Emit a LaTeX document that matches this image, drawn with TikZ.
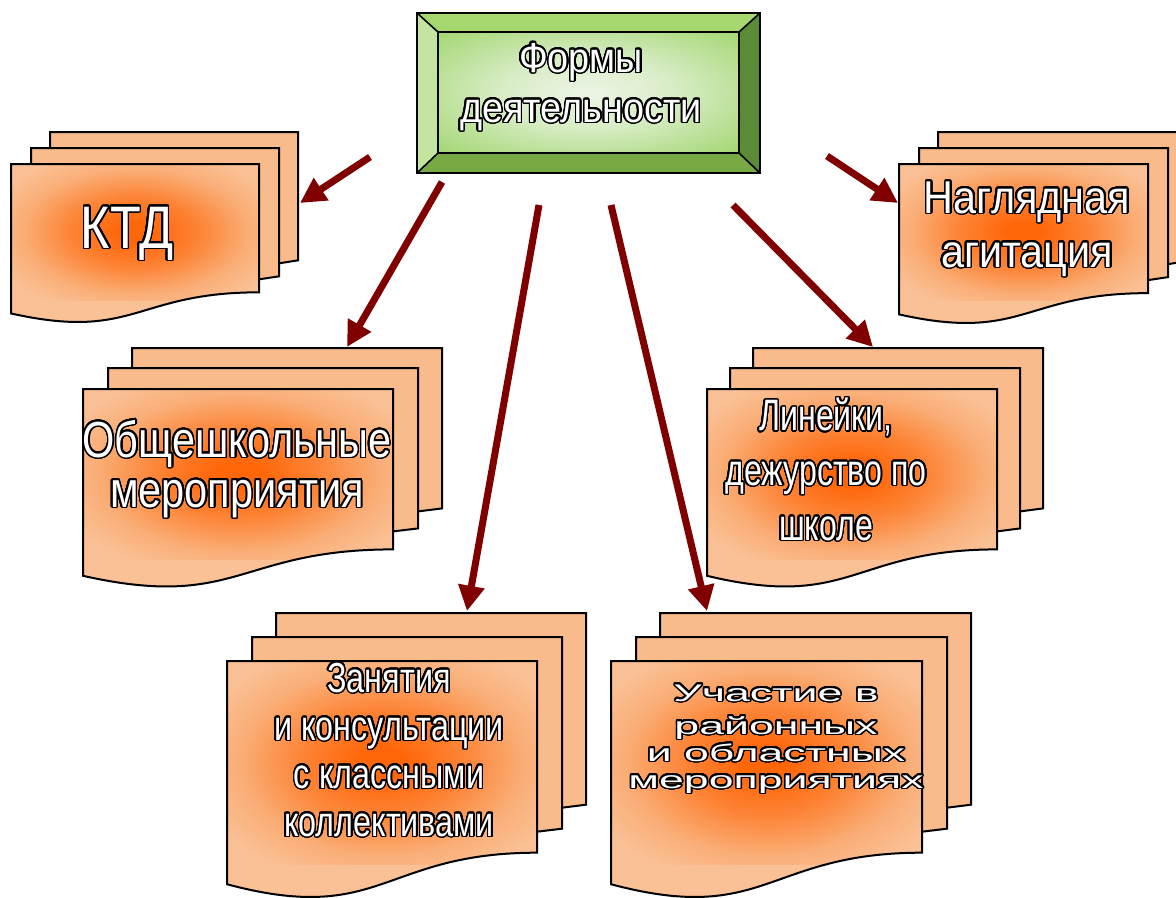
\documentclass[tikz,border=0pt]{standalone}
\usepackage{fontspec}
\setmainfont{Liberation Sans}
\usepackage{contour}
\contourlength{1.1pt}
\contournumber{32}
\usetikzlibrary{arrows.meta}
\definecolor{arr}{HTML}{800000}
\definecolor{peach}{HTML}{F9BB8B}
\definecolor{peachL}{HTML}{FAC196}
\definecolor{orng}{HTML}{FF6608}
\definecolor{gTop}{HTML}{A6D870}
\definecolor{gLeft}{HTML}{C3E5A0}
\definecolor{gRight}{HTML}{5C8B38}
\definecolor{gBot}{HTML}{78A944}
\definecolor{gIn}{HTML}{9CD468}
\definecolor{gCen}{HTML}{EDF5E6}
\pgfdeclareradialshading{docshade}{\pgfpoint{0bp}{0bp}}{color(0bp)=(orng); color(3.5bp)=(orng); color(13bp)=(orng!65!peach); color(23bp)=(peach!85!orng); color(31bp)=(peachL); color(50bp)=(peachL)}
\pgfdeclareradialshading{greenshade}{\pgfpoint{0bp}{0bp}}{color(0bp)=(gCen); color(14bp)=(gCen!75!gIn); color(38bp)=(gIn); color(50bp)=(gIn)}
\newcommand\fs[3]{\fontsize{#1}{#2}\selectfont\addfontfeatures{FakeStretch=#3}}
\newcommand\ct[1]{\contour{black}{#1}}
\tikzset{
  sheet/.style={draw=black, line width=1.5pt, fill=peach},
  frontline/.style={draw=black, line width=1.5pt},
  bevel/.style={draw=black, line width=1.2pt},
  arrowst/.style={draw=arr, line width=5.25pt, -{Triangle[length=19pt,width=19pt]}, fill=arr},
  txt/.style={text=white, align=center, anchor=base, inner sep=0pt}
}
% #1 x0, #2 y0, #3 w, #4 h, #5 dx1, #6 dy1, #7 dx2, #8 dy2
\newcommand\mdoc[8]{%
  \pgfmathsetmacro\hr{0.802*#4}%
  \pgfmathsetmacro\hl{0.934*#4}%
  \pgfmathsetmacro\hd{1.1075*#4}%
  \pgfmathsetmacro\hs{0.85*#4}%
  \pgfmathsetmacro\xm{#1+0.5*#3}%
  \pgfmathsetmacro\xb{#1+#3}%
  \draw[sheet] ({#1+#7},{#2-#8}) -- ({\xb+#7},{#2-#8}) -- ({\xb+#7},{#2+\hr-#8}) -- ({\xb+#5},{#2+\hr-#8+3}) -- ({#1+#7},{#2+\hr-#8+3}) -- cycle;
  \draw[sheet] ({#1+#5},{#2-#6}) -- ({\xb+#5},{#2-#6}) -- ({\xb+#5},{#2+\hr-#6}) -- ({\xb},{#2+\hr-#6+3}) -- ({#1+#5},{#2+\hr-#6+3}) -- cycle;
  \fill[peachL] (#1,#2) -- (\xb,#2) -- (\xb,{#2+\hr}) .. controls (\xm,{#2+\hr}) and (\xm,{#2+\hd}) .. (#1,{#2+\hl}) -- cycle;
  \begin{scope}
    \clip (#1,#2) -- (\xb,#2) -- (\xb,{#2+\hr}) .. controls (\xm,{#2+\hr}) and (\xm,{#2+\hd}) .. (#1,{#2+\hl}) -- cycle;
    \path[shading=docshade] (#1,#2) rectangle (\xb,{#2+\hs});
  \end{scope}
  \path[frontline] (#1,#2) -- (\xb,#2) -- (\xb,{#2+\hr}) .. controls (\xm,{#2+\hr}) and (\xm,{#2+\hd}) .. (#1,{#2+\hl}) -- cycle;
}
\begin{document}
\begin{tikzpicture}[x=0.75pt,y=-0.75pt]
\useasboundingbox (0,0) rectangle (1176,897);
\clip (0,0) rectangle (1176,897);
\fill[white] (0,0) rectangle (1176,897);

% top box
\fill[gTop] (417,13) -- (760,13) -- (739,32) -- (438,32) -- cycle;
\fill[gLeft] (417,13) -- (438,32) -- (438,153) -- (417,173) -- cycle;
\fill[gRight] (760,13) -- (760,173) -- (739,153) -- (739,32) -- cycle;
\fill[gBot] (417,173) -- (438,153) -- (739,153) -- (760,173) -- cycle;
\path[shading=greenshade] (438,32) rectangle (739,153);
\draw[bevel] (417,13) rectangle (760,173);
\draw[bevel] (438,32) rectangle (739,153);
\draw[bevel] (417,13) -- (438,32) (760,13) -- (739,32) (417,173) -- (438,153) (760,173) -- (739,153);
\node[txt, font=\fs{31.5}{37.5}{0.9}] (forms) at (581,122) {\ct{Формы}\\\ct{деятельности}};

% documents
\mdoc{11}{164}{248}{160}{20}{16}{39}{32}
\node[txt, font=\fs{45}{50}{0.84}] (ktd) at (127,248) {\ct{КТД}};

\mdoc{83}{389}{310}{200}{25}{21}{49}{41}
\node[txt, font=\fs{38}{37.5}{0.82}] (obsh) at (237,507) {\ct{Общешкольные}\\\ct{мероприятия}};

\mdoc{227}{661}{310}{239}{25}{24}{49}{48}
\node[txt, font=\fs{31.5}{36}{0.77}] (zan) at (389,836) {\ct{Занятия}\\\ct{и консультации}\\\ct{с классными}\\\ct{коллективами}};

\mdoc{611}{661}{311}{239}{25}{24}{49}{48}
\node[txt, font=\fs{18}{20.25}{1.86}] (uch) at (776,788) {\ct{Участие в}\\[4.5pt]\ct{районных}\\\ct{и областных}\\\ct{мероприятиях}};

\mdoc{707}{389}{290}{200}{23}{21}{46}{41}
\node[txt, font=\fs{33}{41}{0.73}] (lin) at (826,540) {\ct{Линейки,}\\\ct{дежурство по}\\\ct{школе}};

\mdoc{899}{164}{249}{161}{20}{16}{39}{32}
\node[txt, font=\fs{34.5}{40.5}{0.9}] (nag) at (1027,267) {\ct{Наглядная}\\\ct{агитация}};

% arrows
\coordinate (s1) at (370,157); \coordinate (t1) at (300,203);
\coordinate (s2) at (442,182); \coordinate (t2) at (347,347);
\coordinate (s3) at (539,205); \coordinate (t3) at (467,611);
\coordinate (s4) at (611,205); \coordinate (t4) at (707,611);
\coordinate (s5) at (733,205); \coordinate (t5) at (873,347);
\coordinate (s6) at (827,156); \coordinate (t6) at (898,203);
\foreach \i in {1,...,6} \draw[arrowst] (s\i) -- (t\i);
\end{tikzpicture}
\end{document}
